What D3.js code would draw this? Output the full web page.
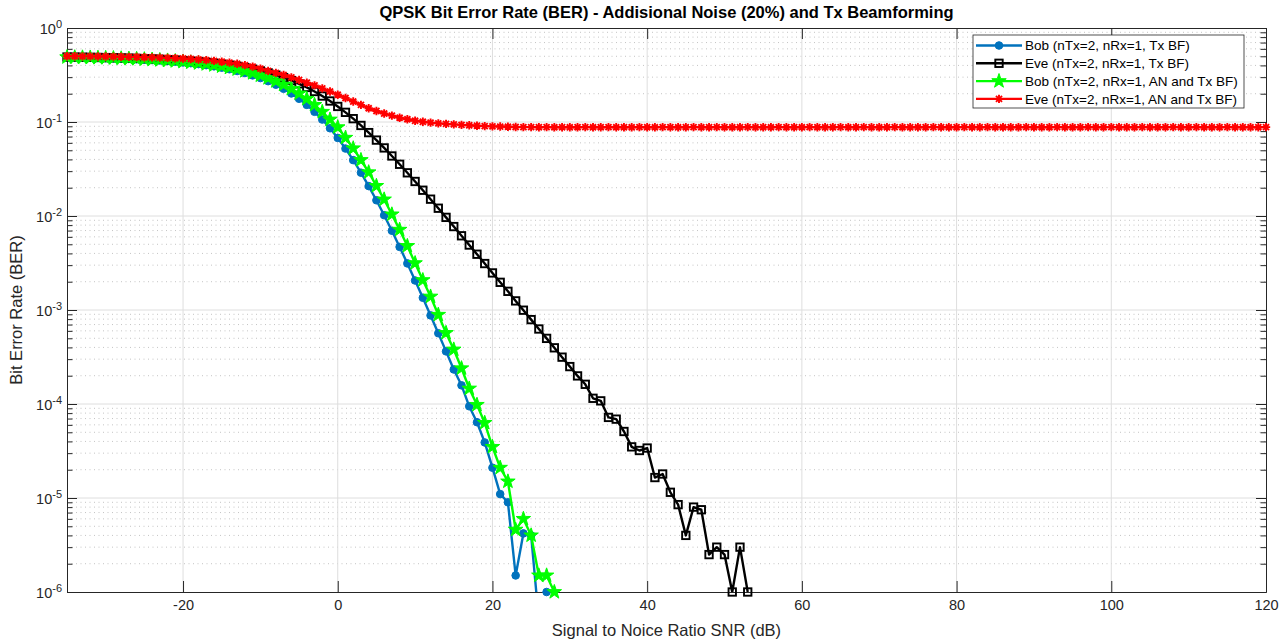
<!DOCTYPE html>
<html>
<head>
<meta charset="utf-8">
<script src="https://cdn.jsdelivr.net/npm/d3@7"></script>
<style>
  body { margin: 0; background: #fff; }
  svg { display: block; font-family: 'Liberation Sans', Arial, Helvetica, sans-serif; }
</style>
</head>
<body>
<div id="chart"></div>
<script>
// SNR grid in dB (simulation ran from -35 to 120 in 1 dB steps)
const snr = d3.range(-35, 121)

// BER, one value per SNR step starting at -35 dB
// (curves stop where the simulation counted no errors)
const bobTxBf = [
  0.4876, 0.4860, 0.4843, 0.4824, 0.4803, 0.4779, 0.4752, 0.4722, 0.4688, 0.4650,
  0.4607, 0.4559, 0.4506, 0.4446, 0.4379, 0.4304, 0.4222, 0.4129, 0.4025, 0.3910,
  0.3783, 0.3642, 0.3488, 0.3318, 0.3133, 0.2934, 0.2720, 0.2494, 0.2257, 0.2013,
  0.1766, 0.1521, 0.1284, 0.1062, 0.0858, 0.0677, 0.0522, 0.0393, 0.0289, 0.0208,
  0.0147, 0.0102, 0.00697, 0.00469, 0.00313, 0.00206, 0.00135, 0.000876, 0.000566, 0.000363,
  0.000233, 0.000158, 0.0000945, 0.000064, 0.000039, 0.000021, 0.000011, 0.000009, 0.0000015, 0.0000042,
  0.000004, 0.0000005, 0.000001
]
const eveTxBf = [
  0.4911, 0.4900, 0.4888, 0.4874, 0.4859, 0.4842, 0.4823, 0.4801, 0.4777, 0.4750,
  0.4719, 0.4685, 0.4647, 0.4604, 0.4556, 0.4502, 0.4442, 0.4375, 0.4301, 0.4217,
  0.4125, 0.4022, 0.3908, 0.3782, 0.3644, 0.3492, 0.3328, 0.3151, 0.2961, 0.2760,
  0.2549, 0.2332, 0.2111, 0.1890, 0.1673, 0.1464, 0.1267, 0.1085, 0.0919, 0.0771,
  0.0642, 0.0530, 0.0435, 0.0355, 0.0288, 0.0233, 0.0188, 0.0151, 0.0121, 0.00967,
  0.00772, 0.00616, 0.00491, 0.00392, 0.00312, 0.00248, 0.00197, 0.00158, 0.00125, 0.000995,
  0.000790, 0.000628, 0.000499, 0.000396, 0.000315, 0.000250, 0.000199, 0.000162, 0.000115, 0.000108,
  0.000072, 0.000069, 0.000051, 0.000035, 0.000032, 0.000034, 0.0000165, 0.000018, 0.0000115, 0.0000085,
  0.000004, 0.000008, 0.0000075, 0.0000025, 0.000003, 0.0000025, 0.000001, 0.000003, 0.000001
]
const bobAnTxBf = [
  0.4889, 0.4876, 0.4860, 0.4843, 0.4824, 0.4803, 0.4779, 0.4752, 0.4722, 0.4688,
  0.4650, 0.4607, 0.4559, 0.4506, 0.4446, 0.4379, 0.4304, 0.4222, 0.4129, 0.4025,
  0.3910, 0.3783, 0.3642, 0.3488, 0.3318, 0.3133, 0.2934, 0.2720, 0.2494, 0.2257,
  0.2013, 0.1766, 0.1521, 0.1284, 0.1062, 0.0880, 0.0680, 0.0525, 0.0394, 0.0292,
  0.0209, 0.0150, 0.0104, 0.00715, 0.00480, 0.00315, 0.00208, 0.00139, 0.00089, 0.00057,
  0.00038, 0.00024, 0.000146, 0.000098, 0.000063, 0.000035, 0.000021, 0.000015, 0.0000046, 0.000006,
  0.000004, 0.0000015, 0.0000015, 0.000001
]
const eveAnTxBf = [
  0.500, 0.500, 0.499, 0.499, 0.498, 0.497, 0.496, 0.495, 0.493, 0.491,
  0.489, 0.487, 0.484, 0.481, 0.477, 0.473, 0.468, 0.462, 0.455, 0.447,
  0.438, 0.428, 0.416, 0.403, 0.388, 0.370, 0.350, 0.333, 0.316, 0.298,
  0.280, 0.262, 0.245, 0.228, 0.211, 0.195, 0.180, 0.165, 0.152, 0.140,
  0.131, 0.123, 0.117, 0.111, 0.107, 0.103, 0.1005, 0.0985, 0.0968, 0.0955,
  0.0943, 0.0932, 0.0922, 0.0913, 0.0905, 0.0899, 0.0894, 0.0890, 0.0886, 0.0883,
  0.0881,
  0.0880, 0.0881, 0.0879, 0.0880, 0.0878, 0.0880, 0.0881, 0.0879, 0.0880, 0.0882,
  0.0879, 0.0880, 0.0878, 0.0881, 0.0880, 0.0879, 0.0881, 0.0880, 0.0878, 0.0880,
  0.0881, 0.0879, 0.0880, 0.0882, 0.0880, 0.0879, 0.0880, 0.0881, 0.0878, 0.0880,
  0.0879, 0.0881, 0.0880, 0.0880, 0.0879, 0.0881, 0.0880, 0.0878, 0.0880, 0.0881,
  0.0879, 0.0880, 0.0882, 0.0880, 0.0879, 0.0880, 0.0881, 0.0879, 0.0880, 0.0878,
  0.0880, 0.0881, 0.0880, 0.0879, 0.0880, 0.0881, 0.0879, 0.0880, 0.0882, 0.0880,
  0.0879, 0.0880, 0.0878, 0.0881, 0.0880, 0.0879, 0.0880, 0.0881, 0.0880, 0.0879,
  0.0880, 0.0882, 0.0879, 0.0880, 0.0881, 0.0880, 0.0878, 0.0880, 0.0881, 0.0879,
  0.0880, 0.0880, 0.0881, 0.0879, 0.0880, 0.0882, 0.0880, 0.0879, 0.0880, 0.0881,
  0.0879, 0.0880, 0.0878, 0.0880, 0.0881
]

const seriesNames = [
  'Bob (nTx=2, nRx=1, Tx BF)',
  'Eve (nTx=2, nRx=1, Tx BF)',
  'Bob (nTx=2, nRx=1, AN and Tx BF)',
  'Eve (nTx=2, nRx=1, AN and Tx BF)'
]
const xTicks = [-20, 0, 20, 40, 60, 80, 100, 120]
const yDecades = [-6, -5, -4, -3, -2, -1, 0]

// dimension stuff
const width = 1287
const height = 640
const plotLeft = 67
const plotTop = 28
const plotRight = 1266
const plotBottom = 592
const axisColor = '#262626'

// series styles
const styles = [
  { color: '#0072BD', marker: 'circle' },
  { color: '#000000', marker: 'square' },
  { color: '#00FF00', marker: 'star' },
  { color: '#FF0000', marker: 'asterisk' }
]
const seriesValues = [bobTxBf, eveTxBf, bobAnTxBf, eveAnTxBf]

// scales
const scaleX = d3.scaleLinear().domain([-35, 120]).range([plotLeft, plotRight])
const scaleY = d3.scaleLog().domain([1e-6, 1]).range([plotBottom, plotTop])

const yMajor = yDecades.map(e => Math.pow(10, e))
const yMinor = []
yDecades.slice(0, -1).forEach(e => {
  for (let k = 2; k <= 9; k++) yMinor.push(k * Math.pow(10, e))
})

const $svg = d3.select('#chart').append('svg')
  .attr('width', width)
  .attr('height', height)

$svg.append('rect').attr('width', width).attr('height', height).attr('fill', '#fff')

// grid
const $grid = $svg.append('g').attr('class', 'g-grid')
$grid.selectAll('.minor')
  .data(yMinor)
  .enter()
  .append('line')
  .attr('x1', plotLeft).attr('x2', plotRight)
  .attr('y1', d => scaleY(d)).attr('y2', d => scaleY(d))
  .attr('stroke', '#c4c4c4')
  .attr('stroke-width', 1)
  .attr('stroke-dasharray', '1,3.5')
$grid.selectAll('.major-y')
  .data(yMajor.slice(1, -1))
  .enter()
  .append('line')
  .attr('x1', plotLeft).attr('x2', plotRight)
  .attr('y1', d => scaleY(d)).attr('y2', d => scaleY(d))
  .attr('stroke', '#dedede')
$grid.selectAll('.major-x')
  .data(xTicks.slice(0, -1))
  .enter()
  .append('line')
  .attr('x1', d => scaleX(d)).attr('x2', d => scaleX(d))
  .attr('y1', plotTop).attr('y2', plotBottom)
  .attr('stroke', '#dedede')

// axes (ticks point inwards, box on)
function styleAxis($g) {
  $g.selectAll('line').attr('stroke', axisColor)
  $g.select('.domain').attr('stroke', axisColor)
  $g.selectAll('text')
    .attr('fill', axisColor)
    .style('font-size', '14.5px')
    .style('font-family', "'Liberation Sans', Arial, sans-serif")
}

const $xBottom = $svg.append('g')
  .attr('transform', `translate(0, ${plotBottom})`)
  .call(d3.axisBottom(scaleX).tickValues(xTicks).tickSize(-11).tickSizeOuter(0).tickPadding(8)
    .tickFormat(d => String(d)))
styleAxis($xBottom)

const $xTop = $svg.append('g')
  .attr('transform', `translate(0, ${plotTop})`)
  .call(d3.axisTop(scaleX).tickValues(xTicks).tickSize(-11).tickSizeOuter(0).tickFormat(''))
styleAxis($xTop)

const $yLeft = $svg.append('g')
  .attr('transform', `translate(${plotLeft}, 0)`)
  .call(d3.axisLeft(scaleY).tickValues(yMajor).tickSize(-10).tickSizeOuter(0).tickPadding(5))
styleAxis($yLeft)

$yLeft.selectAll('.tick text')
  .text(null)
  .attr('dy', '0.38em')
  .each(function(d) {
    const $t = d3.select(this)
    $t.append('tspan').text('10')
    $t.append('tspan')
      .text(String(Math.round(Math.log10(d))))
      .attr('dy', '-0.55em')
      .style('font-size', '11px')
  })

const $yLeftMinor = $svg.append('g')
  .attr('transform', `translate(${plotLeft}, 0)`)
  .call(d3.axisLeft(scaleY).tickValues(yMinor).tickSize(-5.5).tickSizeOuter(0).tickFormat(''))
styleAxis($yLeftMinor)

const $yRight = $svg.append('g')
  .attr('transform', `translate(${plotRight}, 0)`)
  .call(d3.axisRight(scaleY).tickValues(yMajor).tickSize(-10).tickSizeOuter(0).tickFormat(''))
styleAxis($yRight)

const $yRightMinor = $svg.append('g')
  .attr('transform', `translate(${plotRight}, 0)`)
  .call(d3.axisRight(scaleY).tickValues(yMinor).tickSize(-5.5).tickSizeOuter(0).tickFormat(''))
styleAxis($yRightMinor)

// labels
$svg.append('text')
  .attr('x', (plotLeft + plotRight) / 2)
  .attr('y', 18)
  .attr('text-anchor', 'middle')
  .attr('fill', '#000')
  .style('font-size', '16.5px')
  .style('font-weight', 700)
  .text('QPSK Bit Error Rate (BER) - Addisional Noise (20%) and Tx Beamforming')

$svg.append('text')
  .attr('x', (plotLeft + plotRight) / 2)
  .attr('y', 636)
  .attr('text-anchor', 'middle')
  .attr('fill', axisColor)
  .style('font-size', '16.5px')
  .text('Signal to Noice Ratio SNR (dB)')

$svg.append('text')
  .attr('transform', `translate(22, ${(plotTop + plotBottom) / 2}) rotate(-90)`)
  .attr('text-anchor', 'middle')
  .attr('fill', axisColor)
  .style('font-size', '16.5px')
  .text('Bit Error Rate (BER)')

// markers
const starPath = (() => {
  const pts = []
  for (let i = 0; i < 10; i++) {
    const r = i % 2 === 0 ? 7.6 : 3
    const a = -Math.PI / 2 + i * Math.PI / 5
    pts.push([r * Math.cos(a), r * Math.sin(a)])
  }
  return 'M' + pts.map(p => p.join(',')).join('L') + 'Z'
})()

function drawMarker($g, type, color) {
  if (type === 'circle') {
    $g.append('circle').attr('r', 3.8).attr('fill', color).attr('stroke', color).attr('stroke-width', 1)
  } else if (type === 'square') {
    $g.append('rect').attr('x', -3.7).attr('y', -3.7).attr('width', 7.4).attr('height', 7.4)
      .attr('fill', 'none').attr('stroke', color).attr('stroke-width', 1.9)
  } else if (type === 'star') {
    $g.append('path').attr('d', starPath).attr('fill', color).attr('stroke', color).attr('stroke-width', 1)
  } else {
    const r = 4.2
    const a = r * 0.72
    $g.append('path')
      .attr('d', `M${-r},0H${r}M0,${-r}V${r}M${-a},${-a}L${a},${a}M${-a},${a}L${a},${-a}`)
      .attr('stroke', color).attr('stroke-width', 1.9).attr('fill', 'none')
  }
}

// data
$svg.append('clipPath').attr('id', 'plot-clip')
  .append('rect')
  .attr('x', plotLeft).attr('y', plotTop)
  .attr('width', plotRight - plotLeft).attr('height', plotBottom - plotTop)

const line = d3.line()
  .defined(d => d.ber > 0)
  .x(d => scaleX(d.snr))
  .y(d => scaleY(d.ber))

const $vis = $svg.append('g').attr('class', 'g-vis')

seriesValues.forEach((values, si) => {
  const style = styles[si]
  const points = values.map((v, i) => ({ snr: snr[i], ber: v }))
  const $series = $vis.append('g')

  $series.append('path')
    .datum(points)
    .attr('d', line)
    .attr('clip-path', 'url(#plot-clip)')
    .attr('fill', 'none')
    .attr('stroke', style.color)
    .attr('stroke-width', 2.4)
    .attr('stroke-linejoin', 'round')

  $series.selectAll('.mark')
    .data(points.filter(d => d.ber >= 0.999e-6))
    .enter()
    .append('g')
    .attr('class', 'mark')
    .attr('transform', d => `translate(${scaleX(d.snr)}, ${scaleY(d.ber)})`)
    .each(function() { drawMarker(d3.select(this), style.marker, style.color) })
})

// legend
const legendX = 973
const legendY = 35
const $legend = $svg.append('g').attr('class', 'g-legend')
$legend.append('rect')
  .attr('x', legendX).attr('y', legendY)
  .attr('width', 271).attr('height', 73)
  .attr('fill', '#fff')
  .attr('stroke', axisColor)
  .attr('stroke-width', 0.8)

seriesNames.forEach((name, i) => {
  const cy = legendY + 10.5 + i * 17.8
  const $row = $legend.append('g')
  $row.append('line')
    .attr('x1', legendX + 3).attr('x2', legendX + 49)
    .attr('y1', cy).attr('y2', cy)
    .attr('stroke', styles[i].color)
    .attr('stroke-width', 2.4)
  drawMarker($row.append('g').attr('transform', `translate(${legendX + 26}, ${cy})`), styles[i].marker, styles[i].color)
  $row.append('text')
    .attr('x', legendX + 52)
    .attr('y', cy + 4.8)
    .attr('fill', '#000')
    .style('font-size', '13.5px')
    .text(name)
})
</script>
</body>
</html>
